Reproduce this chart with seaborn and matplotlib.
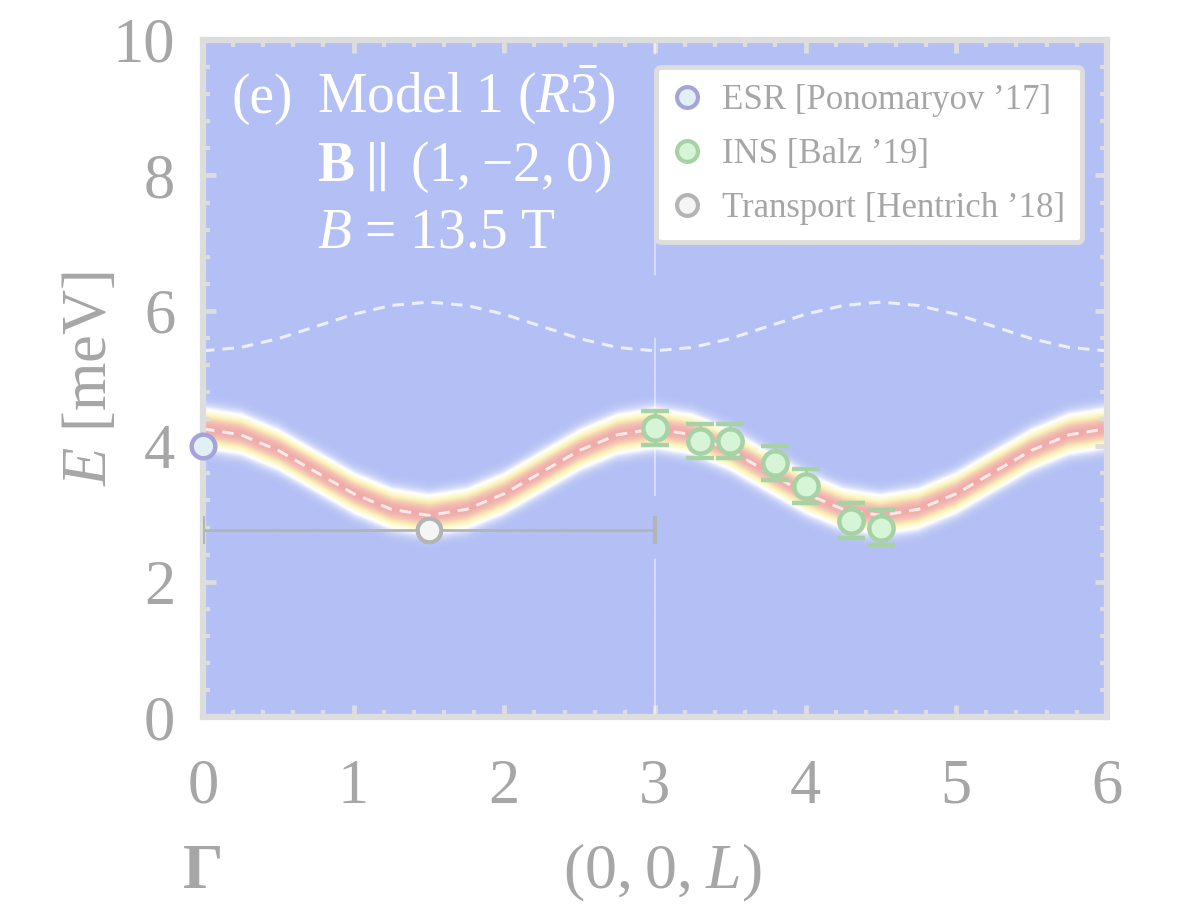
import numpy as np
import pandas as pd
import seaborn as sns
import matplotlib.pyplot as plt
from matplotlib.colors import LinearSegmentedColormap
from matplotlib.lines import Line2D

# magnon branches (meV)
L_disp = [0.0, 0.25, 0.5, 0.75, 1.0, 1.25, 1.5, 1.75, 2.0, 2.25, 2.5, 2.75, 3.0,
          3.25, 3.5, 3.75, 4.0, 4.25, 4.5, 4.75, 5.0, 5.25, 5.5, 5.75, 6.0]
E_lower = [4.26, 4.17, 3.94, 3.62, 3.30, 3.07, 2.98, 3.07, 3.30, 3.62, 3.94, 4.17, 4.26,
           4.17, 3.94, 3.62, 3.30, 3.07, 2.98, 3.07, 3.30, 3.62, 3.94, 4.17, 4.26]
E_upper = [5.41, 5.46, 5.59, 5.77, 5.95, 6.08, 6.13, 6.08, 5.95, 5.77, 5.59, 5.46, 5.41,
           5.46, 5.59, 5.77, 5.95, 6.08, 6.13, 6.08, 5.95, 5.77, 5.59, 5.46, 5.41]

# experiments
esr_L = [0.0]
esr_E = [4.0]
ins_L = [3.0, 3.3, 3.5, 3.8, 4.0, 4.3, 4.5]
ins_E = [4.27, 4.08, 4.08, 3.75, 3.41, 2.90, 2.80]
ins_err = [0.25, 0.25, 0.25, 0.25, 0.25, 0.26, 0.26]
tr_L = [1.5]
tr_E = [2.76]
tr_Lerr = [1.5]

sns.set_theme(style="ticks")
plt.rcParams['font.family'] = ['Liberation Serif', 'DejaVu Serif']
plt.rcParams['mathtext.fontset'] = 'custom'
plt.rcParams['mathtext.rm'] = 'Liberation Serif'
plt.rcParams['mathtext.it'] = 'Liberation Serif:italic'
plt.rcParams['mathtext.bf'] = 'Liberation Serif:bold'
plt.rcParams['mathtext.fallback'] = 'stix'

grey = '#a6a6a6'
frame = '#dddddd'

fig = plt.figure(figsize=(11.8, 9.09), dpi=100)
ax = fig.add_axes([0.172, 0.211, 0.766, 0.745])

# spectral weight around the lower branch
cmap = LinearSegmentedColormap.from_list(
    'spec', [(0.0, '#b4c0f5'), (0.16, '#ffffff'), (0.42, '#fbf6b8'),
             (0.72, '#f5c8b4'), (1.0, '#f0abab')])
Lg = np.linspace(0, 6, 601)
Eg = np.linspace(0, 10, 1001)
centre = np.interp(Lg, L_disp, E_lower)
img = np.exp(-(Eg[:, None] - centre[None, :]) ** 2 / (2 * 0.15 ** 2))
ax.imshow(img, extent=[0, 6, 0, 10], origin='lower', aspect='auto',
          cmap=cmap, vmin=0, vmax=1, interpolation='bilinear', zorder=0)

df = pd.DataFrame({'L': L_disp * 2, 'E': E_lower + E_upper,
                   'branch': ['lower'] * len(L_disp) + ['upper'] * len(L_disp)})
for b in ['lower', 'upper']:
    sns.lineplot(data=df[df.branch == b], x='L', y='E', ax=ax, color='white',
                 alpha=0.75, lw=2.2, dashes=(3.8, 2.6), sort=False,
                 estimator=None, zorder=2)
ax.plot([3, 3], [0, 10], color='white', alpha=0.45, lw=1.5,
        linestyle=(0, (76, 30)), zorder=2)

# data points
ax.errorbar(tr_L, tr_E, xerr=tr_Lerr, fmt='o', ms=17, mfc='#f5f5f5', mec='#b4b4b4',
            mew=3, ecolor='#b4b4b4', elinewidth=2, capsize=10, capthick=2,
            zorder=4)
ax.errorbar(ins_L, ins_E, yerr=ins_err, fmt='o', ms=17.5, mfc='#d6f5d6', mec='#a6d2a6',
            mew=3.2, ecolor='#a6d2a6', elinewidth=2.2, capsize=10, capthick=2.4,
            zorder=4)
ax.plot(esr_L, esr_E, 'o', ms=17, mfc='#e2f0f6', mec='#a4a4da', mew=3.2,
        clip_on=False, zorder=5)

ax.set_xlim(0, 6)
ax.set_ylim(0, 10)
ax.set_xticks([0, 1, 2, 3, 4, 5, 6])
ax.set_yticks([0, 2, 4, 6, 8, 10])
ax.set_xticks(np.arange(0, 6.01, 0.2), minor=True)
ax.set_yticks(np.arange(0, 10.01, 0.4), minor=True)
ax.tick_params(which='both', direction='in', top=True, right=True, color=frame,
               labelcolor=grey, labelsize=45)
ax.tick_params(which='major', length=9, width=3.5)
ax.tick_params(which='minor', length=5, width=3)
ax.tick_params(axis='x', pad=30)
ax.tick_params(axis='y', pad=20)
for s in ax.spines.values():
    s.set_color(frame)
    s.set_linewidth(4.5)

ax.set_xlabel('')
ax.set_ylabel('$E$ [meV]', color=grey, fontsize=45, labelpad=-5)
ax.text(0, -0.23, 'Γ', transform=ax.get_xaxis_transform(), ha='center',
        va='center', fontsize=46, fontweight='bold', color=grey)
ax.text(3.05, -0.23, '(0,\u20090,\u2009$L$)', transform=ax.get_xaxis_transform(),
        ha='center', va='center', fontsize=46, color=grey)

# panel annotation
ax.text(0.032, 0.892, '(e)', transform=ax.transAxes, fontsize=40, color='white')
ax.text(0.126, 0.892, r'Model 1 ($R\bar{3}$)', transform=ax.transAxes,
        fontsize=40, color='white')
ax.text(0.126, 0.792, r'$\mathbf{B}\parallel$' + '\u2009(1,\u2009−2,\u20090)',
        transform=ax.transAxes, fontsize=40, color='white')
ax.text(0.126, 0.693, r'$B$ = 13.5 T', transform=ax.transAxes,
        fontsize=40, color='white')

handles = [
    Line2D([], [], ls='', marker='o', ms=15, mfc='#e2f0f6', mec='#a4a4da', mew=3),
    Line2D([], [], ls='', marker='o', ms=15, mfc='#d6f5d6', mec='#a6d2a6', mew=3),
    Line2D([], [], ls='', marker='o', ms=15, mfc='#f5f5f5', mec='#b4b4b4', mew=3),
]
labels = ['ESR [Ponomaryov ’17]', 'INS [Balz ’19]', 'Transport [Hentrich ’18]']
leg = ax.legend(handles, labels, loc='upper right', bbox_to_anchor=(0.973, 0.960),
                borderaxespad=0, fontsize=25, labelspacing=0.6, handlelength=0.8,
                handletextpad=0.6, borderpad=0.5, framealpha=1, facecolor='white',
                edgecolor=frame, fancybox=True)
leg.get_frame().set_linewidth(3.5)
leg.get_frame().set_boxstyle('round', pad=0, rounding_size=0.15)
for t in leg.get_texts():
    t.set_color(grey)
leg.set_zorder(10)

fig.savefig('out.png', dpi=100)
